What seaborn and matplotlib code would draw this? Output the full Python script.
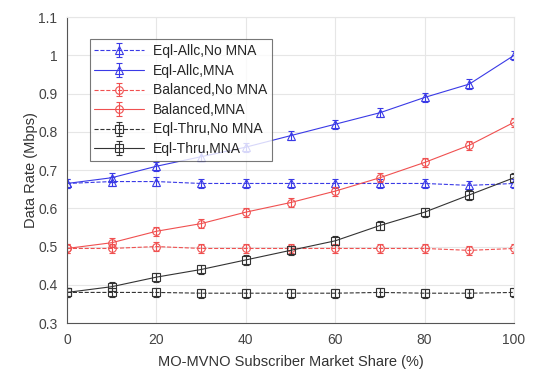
import matplotlib
matplotlib.use("Agg")
import matplotlib.pyplot as plt
from matplotlib.legend_handler import HandlerTuple
import seaborn as sns
import pandas as pd

share = [0, 10, 20, 30, 40, 50, 60, 70, 80, 90, 100]

eql_alloc_no = [0.665, 0.670, 0.670, 0.665, 0.665, 0.665, 0.665, 0.665, 0.665, 0.660, 0.665]
eql_alloc_mna = [0.665, 0.680, 0.710, 0.735, 0.760, 0.790, 0.820, 0.850, 0.890, 0.925, 1.000]
bal_no = [0.495, 0.495, 0.500, 0.495, 0.495, 0.495, 0.495, 0.495, 0.495, 0.490, 0.495]
bal_mna = [0.495, 0.510, 0.540, 0.560, 0.590, 0.615, 0.645, 0.680, 0.720, 0.765, 0.825]
thru_no = [0.380, 0.380, 0.380, 0.378, 0.378, 0.378, 0.378, 0.380, 0.378, 0.378, 0.380]
thru_mna = [0.380, 0.395, 0.420, 0.440, 0.465, 0.490, 0.515, 0.555, 0.590, 0.635, 0.680]
err = [0.012, 0.012, 0.012, 0.012, 0.012, 0.012, 0.012, 0.012, 0.012, 0.012, 0.012]

labels = ["Eql-Allc,No MNA", "Eql-Allc,MNA", "Balanced,No MNA",
          "Balanced,MNA", "Eql-Thru,No MNA", "Eql-Thru,MNA"]
series = [eql_alloc_no, eql_alloc_mna, bal_no, bal_mna, thru_no, thru_mna]

sns.set_style("white")
plt.rcParams["font.family"] = ["Liberation Sans", "DejaVu Sans"]

colors = ["#3a3ae6", "#3a3ae6", "#f05050", "#f05050", "#333333", "#333333"]
styles = ["--", "-", "--", "-", "--", "-"]
markers = ["^", "^", "o", "o", "s", "s"]

fig = plt.figure(figsize=(5.36, 3.73), dpi=100)
ax = fig.add_axes([0.125, 0.134, 0.834, 0.820])

handles = []
for lab, ys, c, ls, m in zip(labels, series, colors, styles, markers):
    df = pd.DataFrame({"x": share, "y": ys})
    sns.lineplot(data=df, x="x", y="y", ax=ax, color=c, linestyle=ls, linewidth=0.8,
                 marker=m, markersize=5.5, markerfacecolor="none", markeredgecolor=c,
                 markeredgewidth=0.8, legend=False)
    line = ax.get_lines()[-1]
    eb = ax.errorbar(share, ys, yerr=err, fmt="none", ecolor=c, elinewidth=0.8, capsize=2.5,
                     capthick=0.8)
    handles.append((line, eb))

ax.set_xlim(0, 100)
ax.set_ylim(0.3, 1.1)
ax.set_xticks([0, 20, 40, 60, 80, 100])
ax.set_yticks([0.3, 0.4, 0.5, 0.6, 0.7, 0.8, 0.9, 1.0, 1.1])
ax.set_yticklabels(["0.3", "0.4", "0.5", "0.6", "0.7", "0.8", "0.9", "1", "1.1"])
ax.grid(True, color="#e6e6e6", linewidth=0.8)
ax.set_axisbelow(True)
for s in ["left", "bottom"]:
    ax.spines[s].set_color("#555555")
    ax.spines[s].set_linewidth(0.8)
for s in ["top", "right"]:
    ax.spines[s].set_color("#e6e6e6")
    ax.spines[s].set_linewidth(0.8)
ax.tick_params(labelsize=10, colors="#444444", length=0, pad=7)
ax.set_xlabel("MO-MVNO Subscriber Market Share (%)", fontsize=10.5, color="#333333",
              labelpad=6)
ax.set_ylabel("Data Rate (Mbps)", fontsize=10.5, color="#333333", labelpad=0)

leg = ax.legend(handles, labels, handler_map={tuple: HandlerTuple(ndivide=1, pad=0)},
                loc="upper left", bbox_to_anchor=(0.035, 0.95), fontsize=10, frameon=True,
                fancybox=False, edgecolor="#555555", handlelength=3.6, labelspacing=0.4,
                borderpad=0.35, handletextpad=0.6)
leg.get_frame().set_linewidth(0.8)

fig.savefig("out.png", dpi=100)
